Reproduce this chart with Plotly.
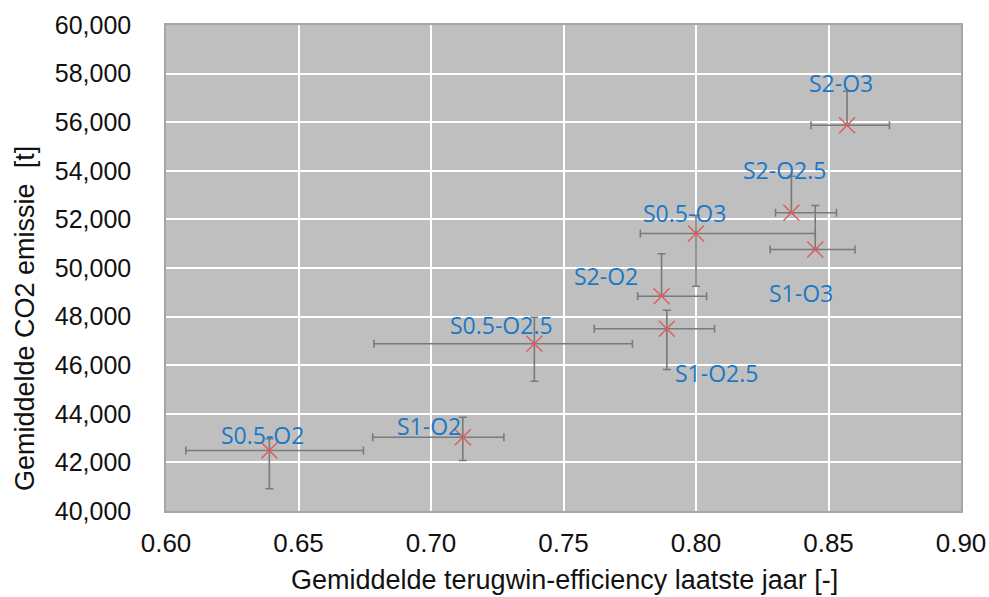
import plotly.graph_objects as go

labels = ["S0.5-O2", "S1-O2", "S0.5-O2.5", "S1-O2.5", "S2-O2", "S0.5-O3", "S2-O2.5", "S1-O3", "S2-O3"]
efficiency = [0.639, 0.712, 0.739, 0.789, 0.787, 0.800, 0.836, 0.845, 0.857]
eff_plus = [0.0355, 0.0155, 0.037, 0.018, 0.017, 0.045, 0.017, 0.015, 0.016]
eff_minus = [0.0315, 0.034, 0.0605, 0.0274, 0.009, 0.021, 0.006, 0.017, 0.0136]
co2 = [42490, 43037, 46881, 47498, 48840, 51420, 52272, 50761, 55877]
co2_plus = [481, 823, 1094, 765, 1744, 740, 1506, 1811, 1399]
co2_minus = [1576, 959, 1539, 1675, 0, 2169, 0, 0, 0]

x_ticks = [0.60, 0.65, 0.70, 0.75, 0.80, 0.85, 0.90]
y_ticks = list(range(40000, 60001, 2000))

# label offsets in pixels (layout only)
label_shift = [(-7, 15), (-34, 11), (-33, 19), (50, -44), (-56, 20), (-12, 20), (-7, 43), (-14, -43), (-6, 42)]

fig = go.Figure()
fig.add_trace(go.Scatter(
    x=efficiency, y=co2, mode="markers",
    marker=dict(symbol="x-thin-open", size=16, color="#e25a5a", line=dict(width=1.4, color="#e25a5a")),
    error_x=dict(type="data", symmetric=False, array=eff_plus, arrayminus=eff_minus,
                 color="#7a7a7a", thickness=1.6, width=4),
    error_y=dict(type="data", symmetric=False, array=co2_plus, arrayminus=co2_minus,
                 color="#7a7a7a", thickness=1.6, width=4),
    showlegend=False, hoverinfo="skip",
))

for lab, xv, yv, (dx, dy) in zip(labels, efficiency, co2, label_shift):
    fig.add_annotation(x=xv, y=yv, text=lab, showarrow=False, xshift=dx, yshift=dy,
                       font=dict(family="Open Sans", size=23, color="#1a78c8"))

L, R, T, B = 166, 28, 25, 86
pw, ph = 989 - L - R, 597 - T - B

fig.add_annotation(xref="paper", yref="paper", x=(25 - L) / pw, y=(597 - B - 319) / ph,
                   text="Gemiddelde CO2 emissie  [t]", textangle=-90, showarrow=False,
                   font=dict(family="Liberation Sans, Arial", size=27, color="#111111"),
                   xanchor="center", yanchor="middle")
fig.add_annotation(xref="paper", yref="paper", x=(564 - L) / pw, y=-(580 - (597 - B)) / ph,
                   text="Gemiddelde terugwin-efficiency laatste jaar [-]", showarrow=False,
                   font=dict(family="Liberation Sans, Arial", size=27, color="#111111"),
                   xanchor="center", yanchor="middle")

fig.update_layout(
    width=989, height=597,
    margin=dict(l=L, r=R, t=T, b=B),
    paper_bgcolor="white", plot_bgcolor="#bfbfbf",
    font=dict(family="Liberation Sans, Arial", color="#111111"),
)
fig.update_xaxes(
    range=[0.60, 0.90], tickvals=x_ticks, ticktext=[f"{v:.2f}" for v in x_ticks],
    tickfont=dict(size=26), showgrid=True, gridcolor="white", gridwidth=1.5,
    showline=True, linecolor="#a6a6a6", linewidth=1.5, mirror=True, zeroline=False,
    ticks="", ticklen=0, automargin=False, ticklabelstandoff=8,
)
fig.update_yaxes(
    range=[40000, 60000], tickvals=y_ticks, ticktext=[f"{v:,}" for v in y_ticks],
    tickfont=dict(size=25), showgrid=True, gridcolor="white", gridwidth=1.5,
    showline=True, linecolor="#a6a6a6", linewidth=1.5, mirror=True, zeroline=False,
    ticks="", ticklen=0, automargin=False, ticklabelstandoff=28,
)

fig.write_html("out.html", config={"displayModeBar": False},
               post_script="document.body.style.margin='0';document.body.style.overflow='hidden';")
